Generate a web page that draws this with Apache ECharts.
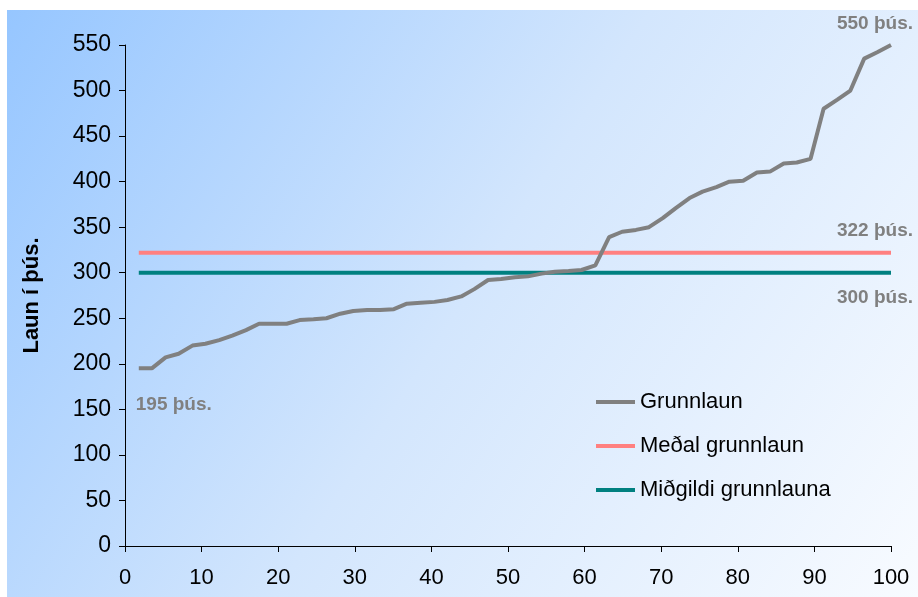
<!DOCTYPE html>
<html>
<head>
<meta charset="utf-8">
<script src="https://cdn.jsdelivr.net/npm/echarts@6/dist/echarts.min.js"></script>
<style>
html,body{margin:0;padding:0;background:#fff;}
#main{width:918px;height:597px;}
</style>
</head>
<body>
<div id="main"></div>
<script>
// Percentile position of each employee (x) and base salary in thousands (y)
const positions = [1.8, 3.5, 5.3, 7.0, 8.8, 10.5, 12.3, 14.0, 15.8, 17.5, 19.3, 21.1, 22.8, 24.6, 26.3, 28.1, 29.8, 31.6, 33.3, 35.1, 36.8, 38.6, 40.4, 42.1, 43.9, 45.6, 47.4, 49.1, 50.9, 52.6, 54.4, 56.1, 57.9, 59.6, 61.4, 63.2, 64.9, 66.7, 68.4, 70.2, 71.9, 73.7, 75.4, 77.2, 78.9, 80.7, 82.5, 84.2, 86.0, 87.7, 89.5, 91.2, 93.0, 94.7, 96.5, 98.2, 100];
const grunnlaun = [195, 195, 207, 211, 220, 222, 226, 231, 237, 244, 244, 244, 248, 249, 250, 255, 258, 259, 259, 260, 266, 267, 268, 270, 274, 282, 292, 293, 295, 296, 299, 301, 302, 303, 308, 339, 345, 347, 350, 360, 371, 382, 389, 394, 400, 401, 410, 411, 420, 421, 425, 480, 490, 500, 535, 542, 550];
const medalGrunnlaun = 322;
const midgildiGrunnlauna = 300;
const seriesNames = ['Grunnlaun', 'Meðal grunnlaun', 'Miðgildi grunnlauna'];
const yTitle = 'Laun í þús.';
const unit = ' þús.';

const chart = echarts.init(document.getElementById('main'), null, {renderer: 'canvas'});

const first = positions[0], last = positions[positions.length - 1];
const baseFont = 'Liberation Sans, Arial, sans-serif';

const option = {
  animation: false,
  backgroundColor: '#ffffff',
  graphic: [{
    type: 'rect', z: -10, silent: true,
    shape: {x: 7, y: 10, width: 911, height: 587},
    style: {
      fill: new echarts.graphic.LinearGradient(0, 0, 1, 1, [
        {offset: 0, color: '#96c6ff'},
        {offset: 0.5, color: '#d3e6fd'},
        {offset: 1, color: '#f8fbff'}
      ])
    }
  }],
  grid: {left: 125, right: 27, top: 45, bottom: 51, containLabel: false},
  legend: {
    orient: 'vertical', left: 591, top: 386,
    itemWidth: 39, itemHeight: 4, itemGap: 22,
    icon: 'rect',
    textStyle: {fontFamily: baseFont, fontSize: 22, color: '#000'},
    data: seriesNames
  },
  xAxis: {
    type: 'value', min: 0, max: 100, interval: 10,
    axisLine: {show: true, lineStyle: {color: '#000', width: 1}},
    axisTick: {show: true, length: 6, lineStyle: {color: '#000'}},
    axisLabel: {fontFamily: 'Liberation Sans Narrow, ' + baseFont, fontSize: 22, color: '#000', margin: 21},
    splitLine: {show: false}
  },
  yAxis: {
    type: 'value', min: 0, max: 550, interval: 50,
    name: yTitle, nameLocation: 'middle', nameRotate: 90, nameGap: 82,
    nameTextStyle: {fontFamily: baseFont, fontSize: 22, fontWeight: 'bold', color: '#000'},
    axisLine: {show: true, lineStyle: {color: '#000', width: 1}},
    axisTick: {show: true, length: 6, lineStyle: {color: '#000'}},
    axisLabel: {fontFamily: baseFont, fontSize: 23, color: '#000', margin: 14},
    splitLine: {show: false}
  },
  series: [
    {
      name: seriesNames[0], type: 'line', showSymbol: false, symbol: 'none',
      data: positions.map((x, i) => [x, grunnlaun[i]]),
      lineStyle: {color: '#808080', width: 4}, itemStyle: {color: '#808080'},
      emphasis: {disabled: true}, z: 5
    },
    {
      name: seriesNames[1], type: 'line', showSymbol: false, symbol: 'none',
      data: [[first, medalGrunnlaun], [last, medalGrunnlaun]],
      lineStyle: {color: '#ff8080', width: 4}, itemStyle: {color: '#ff8080'},
      emphasis: {disabled: true}, z: 3
    },
    {
      name: seriesNames[2], type: 'line', showSymbol: false, symbol: 'none',
      data: [[first, midgildiGrunnlauna], [last, midgildiGrunnlauna]],
      lineStyle: {color: '#008080', width: 4}, itemStyle: {color: '#008080'},
      emphasis: {disabled: true}, z: 3
    }
  ]
};
chart.setOption(option);

// Annotations placed through the chart's own scales
const toPx = (x, y) => chart.convertToPixel({gridIndex: 0}, [x, y]);
const annStyle = {fontFamily: baseFont, fontSize: 19, fontWeight: 'bold', fill: '#808080'};
const maxV = grunnlaun[grunnlaun.length - 1], minV = grunnlaun[0];
const pMax = toPx(last, maxV), pMean = toPx(last, medalGrunnlaun), pMed = toPx(last, midgildiGrunnlauna), pMin = toPx(first, minV);
chart.setOption({
  graphic: [
    option.graphic[0],
    {type: 'text', silent: true, x: pMax[0] + 22, y: pMax[1] - 21, style: Object.assign({text: maxV + unit, align: 'right', verticalAlign: 'middle'}, annStyle)},
    {type: 'text', silent: true, x: pMean[0] + 22, y: pMean[1] - 22, style: Object.assign({text: medalGrunnlaun + unit, align: 'right', verticalAlign: 'middle'}, annStyle)},
    {type: 'text', silent: true, x: pMed[0] + 22, y: pMed[1] + 25, style: Object.assign({text: midgildiGrunnlauna + unit, align: 'right', verticalAlign: 'middle'}, annStyle)},
    {type: 'text', silent: true, x: pMin[0] - 3, y: pMin[1] + 36, style: Object.assign({text: minV + unit, align: 'left', verticalAlign: 'middle'}, annStyle)}
  ]
});
</script>
</body>
</html>
